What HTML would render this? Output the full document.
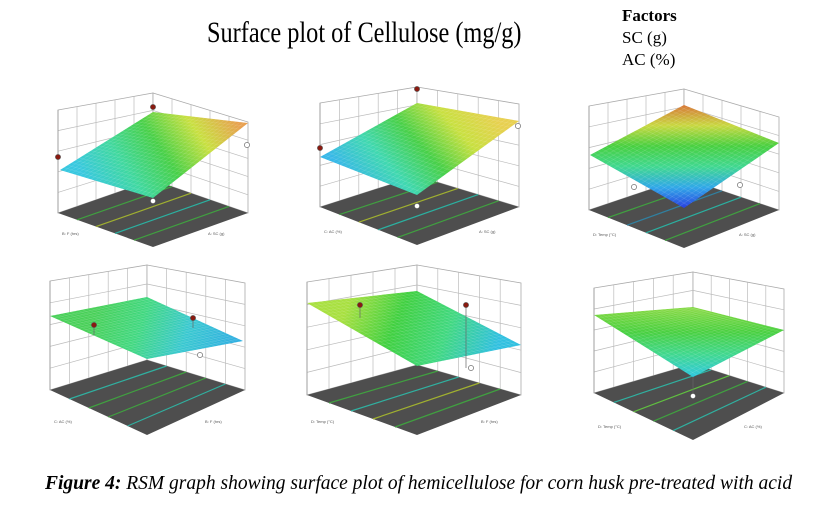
<!DOCTYPE html>
<html><head><meta charset="utf-8"><style>
body{margin:0;background:#fff;width:815px;height:505px;overflow:hidden;position:relative;font-family:"Liberation Serif",serif}
.t{position:absolute;white-space:nowrap}
</style></head><body>
<div class="t" style="left:207px;top:16px;font-size:30px;transform:scaleX(0.81);transform-origin:0 0">Surface plot of Cellulose (mg/g)</div>
<div class="t" style="left:622px;top:6px;font-size:17px;font-weight:bold">Factors</div>
<div class="t" style="left:622px;top:28px;font-size:17px;">SC (g)</div>
<div class="t" style="left:622px;top:50px;font-size:17px;">AC (%)</div>
<div class="t" style="left:45px;top:473px;font-size:19.5px;font-style:italic"><b>Figure 4:</b> RSM graph showing surface plot of hemicellulose for corn husk pre-treated with acid</div>
<svg id="s" width="815" height="505" style="position:absolute;left:0;top:0"></svg>
<script>
var S=document.getElementById('s'),NS='http://www.w3.org/2000/svg',defs=document.createElementNS(NS,'defs');S.appendChild(defs);
function el(n,a,p){var e=document.createElementNS(NS,n);for(var k in a)e.setAttribute(k,a[k]);(p||S).appendChild(e);return e;}
var gid=0;
function plot(o){
 var L=o.L,R=o.R,B=o.B,lt=o.lt,rt=o.rt,bt=o.bt,fl=o.fl,bf=o.bf,fb=o.fb;
 el('polygon',{points:[L,lt,B,bt,B,bf,L,fl].join(' '),fill:'#fff',stroke:'#aaa','stroke-width':0.8});
 el('polygon',{points:[B,bt,R,rt,R,fl,B,bf].join(' '),fill:'#fff',stroke:'#aaa','stroke-width':0.8});
 for(var i=1;i<5;i++){var f=i/5;
  el('line',{x1:L,y1:lt+(fl-lt)*f,x2:B,y2:bt+(bf-bt)*f,stroke:'#bbb','stroke-width':0.7});
  el('line',{x1:B,y1:bt+(bf-bt)*f,x2:R,y2:rt+(fl-rt)*f,stroke:'#bbb','stroke-width':0.7});
  var x=L+(B-L)*f; el('line',{x1:x,y1:lt+(bt-lt)*f,x2:x,y2:fl+(bf-fl)*f,stroke:'#bbb','stroke-width':0.7});
  x=B+(R-B)*f; el('line',{x1:x,y1:bt+(rt-bt)*f,x2:x,y2:bf+(fl-bf)*f,stroke:'#bbb','stroke-width':0.7});
 }
 el('polygon',{points:[L,fl,B,bf,R,fl,B,fb].join(' '),fill:'#4e4e4e'});
 for(var i=1;i<5;i++){var f=i/5;
  el('line',{x1:L+(B-L)*f,y1:fl+(fb-fl)*f,x2:B+(R-B)*f,y2:bf+(fl-bf)*f,stroke:o.cc[i%o.cc.length],'stroke-width':1.2});
 }
 var s=o.s,id='g'+(gid++),g=el('linearGradient',{id:id,gradientUnits:'userSpaceOnUse',x1:o.g[0],y1:o.g[1],x2:o.g[2],y2:o.g[3]},defs);
 o.st.forEach(function(c,i){el('stop',{offset:i/(o.st.length-1),'stop-color':c},g);});
 el('polygon',{points:s.join(' '),fill:'url(#'+id+')'});
 for(var i=1;i<24;i++){var f=i/24;
  el('line',{x1:s[0]+(s[2]-s[0])*f,y1:s[1]+(s[3]-s[1])*f,x2:s[6]+(s[4]-s[6])*f,y2:s[7]+(s[5]-s[7])*f,stroke:'rgba(255,255,255,0.15)','stroke-width':0.6});
  el('line',{x1:s[0]+(s[6]-s[0])*f,y1:s[1]+(s[7]-s[1])*f,x2:s[2]+(s[4]-s[2])*f,y2:s[3]+(s[5]-s[3])*f,stroke:'rgba(255,255,255,0.15)','stroke-width':0.6});
 }
 el('line',{x1:L,y1:lt,x2:L,y2:fl,stroke:'#999','stroke-width':0.8});
 (o.pts||[]).forEach(function(p){if(p[2])el('line',{x1:p[0],y1:p[1],x2:p[0],y2:p[2],stroke:'#666','stroke-width':0.7});el('circle',{cx:p[0],cy:p[1],r:2.6,fill:p[3]?'#8a1a10':'#fff',stroke:'#555','stroke-width':0.6});});
 el('text',{x:L+4,y:fb-12,'font-size':4,fill:'#555','font-family':'Liberation Sans'}).textContent=o.xl;
 el('text',{x:R-40,y:fb-12,'font-size':4,fill:'#555','font-family':'Liberation Sans'}).textContent=o.yl;
}
plot({L:58,R:248,B:153,lt:110,rt:122,bt:93,fl:213,bf:180,fb:247,s:[60,170,153,112,248,123,153,198],g:[100,200,230,110],st:['#38c8e0','#40d8a0','#48d048','#c8e040','#e8a050'],cc:['#2bb0a0','#40a040','#a0b030'],pts:[[153,107,0,1],[58,157,0,1],[247,145,0,0],[153,201,0,0]],xl:'B: F (hrs)',yl:'A: SC (g)'});
plot({L:320,R:519,B:417,lt:103,rt:104,bt:87,fl:207,bf:176,fb:245,s:[320,157,417,103,519,121,417,195],g:[370,200,480,100],st:['#38b8e8','#40d8b0','#48d048','#c8e040','#e8d050'],cc:['#2bb0a0','#40a040','#a0b030'],pts:[[417,89,0,1],[320,148,0,1],[518,126,0,0],[417,206,0,0]],xl:'C: AC (%)',yl:'A: SC (g)'});
plot({L:589,R:779,B:684,lt:106,rt:117,bt:89,fl:210,bf:178,fb:248,s:[590,155,684,105,779,143,684,208],g:[684,208,684,105],st:['#2a40e0','#30a8e8','#40d890','#48d040','#c8d840','#d87838'],cc:['#2bb0a0','#40a040','#3080a0'],pts:[[634,187,0,0],[740,185,0,0]],xl:'D: Temp (°C)',yl:'A: SC (g)'});
plot({L:50,R:245,B:147,lt:281,rt:283,bt:265,fl:390,bf:360,fb:435,s:[50,316,147,297,243,341,147,359],g:[100,300,230,350],st:['#48d058','#40d880','#38c8d0','#30b0e0'],cc:['#40a040','#30b0a0','#40a040'],pts:[[94,325,335,1],[193,318,328,1],[200,355,0,0]],xl:'C: AC (%)',yl:'B: F (hrs)'});
plot({L:307,R:521,B:417,lt:282,rt:283,bt:265,fl:395,bf:365,fb:435,s:[307,303,417,291,521,345,417,366],g:[350,300,490,360],st:['#a8e040','#40d040','#40d880','#30c0e0'],cc:['#a0b030','#40a040','#30b0a0'],pts:[[360,305,318,1],[466,305,368,1],[471,368,0,0]],xl:'D: Temp (°C)',yl:'B: F (hrs)'});
plot({L:594,R:784,B:693,lt:288,rt:289,bt:272,fl:393,bf:364,fb:440,s:[594,315,693,307,784,330,693,377],g:[693,310,693,377],st:['#80d840','#48d040','#40d890','#30c8e0'],cc:['#40a040','#30b0a0','#60c040'],pts:[[693,396,377,0]],xl:'D: Temp (°C)',yl:'C: AC (%)'});
</script>
</body></html>
